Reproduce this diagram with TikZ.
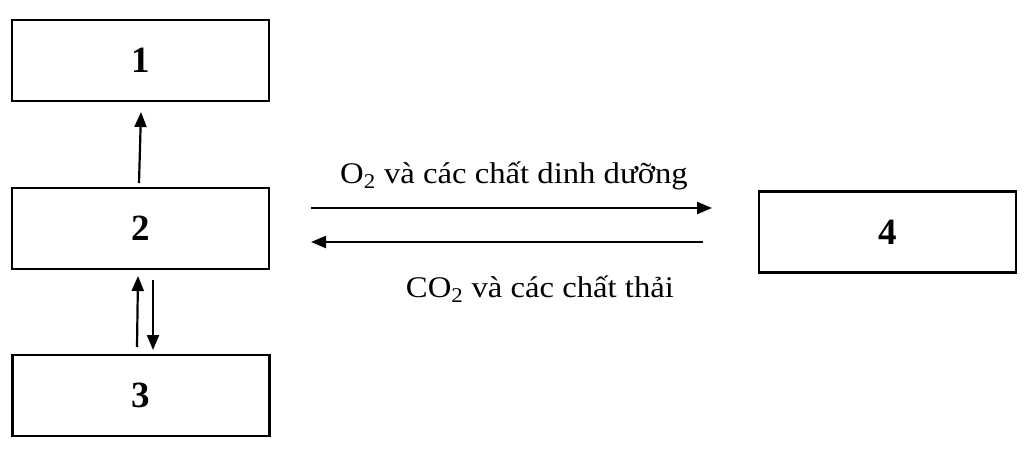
\documentclass[tikz,border=0pt]{standalone}
\usepackage{fontspec}
\setmainfont{Liberation Serif}
\usetikzlibrary{arrows.meta}

\tikzset{
  organ/.style={draw, line width=2.4pt, minimum width=257pt, minimum height=81pt, inner sep=0pt, font=\fontsize{37}{40}\selectfont\bfseries},
  flow/.style={line width=2.2pt, -{Triangle[length=15pt, width=12pt]}},
  flowlabel/.style={anchor=base, xscale=1.09, font=\fontsize{30}{34}\selectfont}
}

\begin{document}
\begin{tikzpicture}[x=1pt, y=-1pt]
      \useasboundingbox (0, 0) rectangle (1024, 450);

      % Boxes
      \node[organ] (b1) at (140.5, 60.5) {1};
      \node[organ] (b2) at (140.5, 228.5) {2};
      \node[organ] (b3) at (141, 395.5) {3};
      \node[organ] (b4) at (887.5, 232) {4};

      % Free ends of the arrows
      \coordinate (up1s) at (139, 183);
      \coordinate (up1e) at (141, 112);
      \coordinate (up2s) at (137, 347);
      \coordinate (up2e) at (138, 276);
      \coordinate (dns) at (153, 280);
      \coordinate (dne) at (153, 350);
      \coordinate (rs) at (311, 208);
      \coordinate (re) at (712, 208);
      \coordinate (ls) at (703, 242);
      \coordinate (le) at (311, 242);

      % Arrows between 1, 2 and 3
      \draw[flow] (up1s) -- (up1e);
      \draw[flow] (up2s) -- (up2e);
      \draw[flow] (dns) -- (dne);

      % Arrows between 2 and 4
      \draw[flow] (rs) -- (re);
      \draw[flow] (ls) -- (le);

      % Labels
      \node[flowlabel] (ltop) at (514, 183) {O\textsubscript{2} và các chất dinh dưỡng};
      \node[flowlabel] (lbot) at (540, 297) {CO\textsubscript{2} và các chất thải};

  \end{tikzpicture}
\end{document}
